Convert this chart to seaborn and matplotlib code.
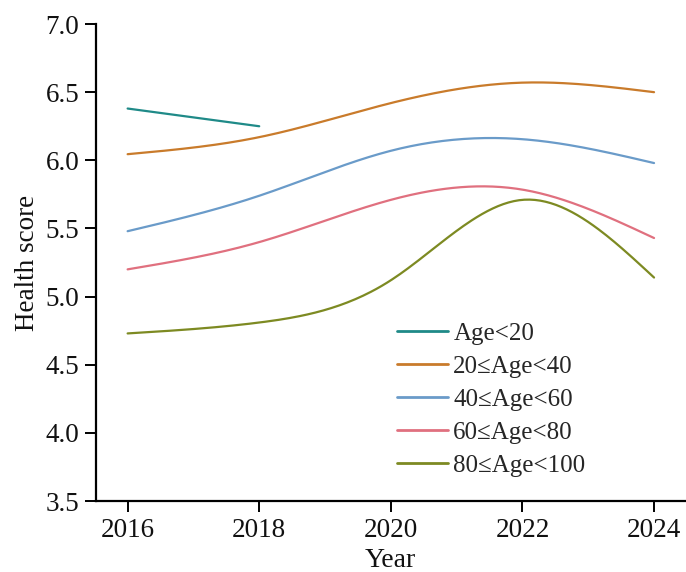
import numpy as np
import pandas as pd
import matplotlib
matplotlib.use("Agg")
import matplotlib.pyplot as plt
import seaborn as sns

# Health score by age group and survey year
groups = ["Age<20", "20≤Age<40", "40≤Age<60", "60≤Age<80", "80≤Age<100"]
years_young = [2016, 2018]
years = [2016, 2018, 2020, 2022, 2024]
score_lt20 = [6.38, 6.25]
score_20_40 = [6.045, 6.17, 6.42, 6.57, 6.50]
score_40_60 = [5.48, 5.74, 6.07, 6.155, 5.98]
score_60_80 = [5.20, 5.40, 5.71, 5.785, 5.43]
score_80_100 = [4.73, 4.81, 5.12, 5.71, 5.14]
colors = ["#1f8a88", "#c97b2b", "#6a9bc9", "#e0707f", "#7d8a22"]
y_ticks = [3.5, 4.0, 4.5, 5.0, 5.5, 6.0, 6.5, 7.0]
x_ticks = [2016, 2018, 2020, 2022, 2024]


def natural_spline(x, y, n=200):
    """Smooth curve through the given points (natural cubic spline)."""
    x = np.asarray(x, float)
    y = np.asarray(y, float)
    if len(x) < 3:
        xs = np.linspace(x[0], x[-1], n)
        return xs, np.interp(xs, x, y)
    h = np.diff(x)
    m = len(x)
    A = np.zeros((m, m))
    b = np.zeros(m)
    A[0, 0] = A[-1, -1] = 1.0
    for i in range(1, m - 1):
        A[i, i - 1] = h[i - 1]
        A[i, i] = 2 * (h[i - 1] + h[i])
        A[i, i + 1] = h[i]
        b[i] = 6 * ((y[i + 1] - y[i]) / h[i] - (y[i] - y[i - 1]) / h[i - 1])
    M = np.linalg.solve(A, b)
    xs = np.linspace(x[0], x[-1], n)
    idx = np.clip(np.searchsorted(x, xs) - 1, 0, m - 2)
    x0, x1 = x[idx], x[idx + 1]
    hh = x1 - x0
    t0, t1 = x1 - xs, xs - x0
    ys = (M[idx] * t0 ** 3 + M[idx + 1] * t1 ** 3) / (6 * hh) \
        + (y[idx] / hh - M[idx] * hh / 6) * t0 \
        + (y[idx + 1] / hh - M[idx + 1] * hh / 6) * t1
    return xs, ys


series = [
    (years_young, score_lt20),
    (years, score_20_40),
    (years, score_40_60),
    (years, score_60_80),
    (years, score_80_100),
]

frames = []
for name, (xv, yv) in zip(groups, series):
    xs, ys = natural_spline(xv, yv)
    frames.append(pd.DataFrame({"Year": xs, "Health score": ys, "Group": name}))
df = pd.concat(frames, ignore_index=True)

sns.set_theme(style="ticks")
plt.rcParams["font.family"] = ["Liberation Serif", "DejaVu Serif"]

fig = plt.figure(figsize=(6.86, 5.72), dpi=100)
ax = fig.add_axes([0.14, 0.124, 0.8585, 0.834])

sns.lineplot(data=df, x="Year", y="Health score", hue="Group",
             hue_order=groups, palette=colors, linewidth=1.6,
             sort=False, estimator=None, ax=ax)

ax.set_xlim(2015.52, 2024.47)
ax.set_ylim(3.5, 7.0)
ax.set_xticks(x_ticks)
ax.set_yticks(y_ticks)
ax.set_yticklabels([f"{v:.1f}" for v in y_ticks])
ax.tick_params(axis="both", direction="out", length=8, width=1.4,
               labelsize=19.5, color="black", labelcolor="#111111", pad=4)
for side in ("top", "right"):
    ax.spines[side].set_visible(False)
for side in ("left", "bottom"):
    ax.spines[side].set_linewidth(1.6)
    ax.spines[side].set_color("black")

ax.set_xlabel("Year", fontsize=20, labelpad=4, color="#111111")
ax.set_ylabel("Health score", fontsize=19.5, labelpad=4, color="#111111")

leg = ax.legend(loc="upper left", bbox_to_anchor=(0.578, 0.436),
                bbox_transform=fig.transFigure, frameon=False,
                fontsize=18, handlelength=2.05, handletextpad=0.22,
                labelspacing=0.42, borderpad=0, borderaxespad=0)
for line in leg.get_lines():
    line.set_linewidth(2.0)

fig.savefig("out.png", dpi=100)
